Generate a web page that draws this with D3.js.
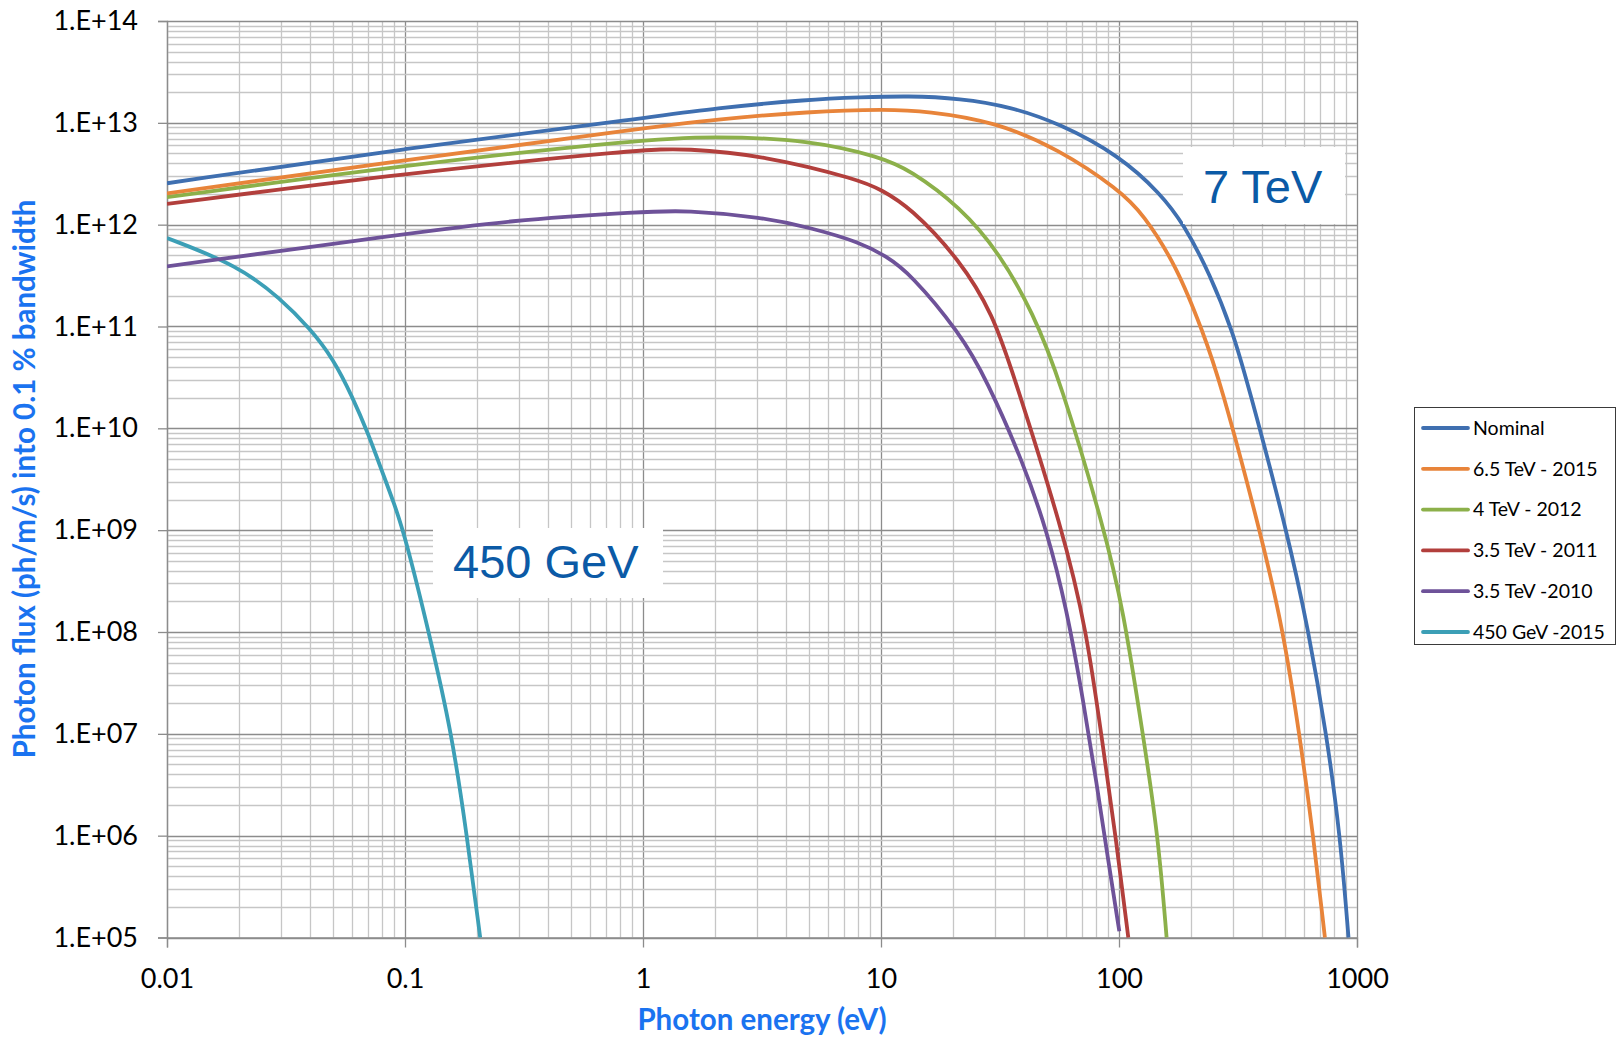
<!DOCTYPE html>
<html>
<head>
<meta charset="utf-8">
<script src="https://cdn.jsdelivr.net/npm/d3@7"></script>
<style>
  body { margin: 0; background: #fff; }
  svg { display: block; }
</style>
</head>
<body>
<svg id="chart" width="1622" height="1040"></svg>
<script>
// ticks
const xTickValues = [0.01, 0.1, 1, 10, 100, 1000];
const xTickLabels = ["0.01", "0.1", "1", "10", "100", "1000"];
const yTickValues = [1e5, 1e6, 1e7, 1e8, 1e9, 1e10, 1e11, 1e12, 1e13, 1e14];
const yTickLabels = ["1.E+05", "1.E+06", "1.E+07", "1.E+08", "1.E+09", "1.E+10", "1.E+11", "1.E+12", "1.E+13", "1.E+14"];

// series names (legend order)
const seriesNames = ["Nominal", "6.5 TeV - 2015", "4 TeV - 2012", "3.5 TeV - 2011", "3.5 TeV -2010", "450 GeV -2015"];

// values: photon energy (eV) and flux
const nominalE = [0.01, 0.1, 1, 2, 5, 8.2, 13, 21.5, 35, 56, 100, 150, 186, 241, 302, 344, 507, 625, 747, 850, 921];
const nominalF = [2.55e12, 5.6e12, 1.11e13, 1.39e13, 1.7e13, 1.78e13, 1.84e13, 1.74e13, 1.44e13, 9.9e12, 4.8e12, 2.0e12, 1.03e12, 3.3e11, 8.6e10, 3.0e10, 1e9, 1.05e8, 9.4e6, 1e6, 1e5];

const tev65E = [0.01, 0.1, 1, 2, 5, 10.5, 15.6, 30, 56, 100, 126, 175, 226, 265, 391, 490, 575, 655, 733];
const tev65F = [2.03e12, 4.3e12, 8.85e12, 1.08e13, 1.29e13, 1.36e13, 1.3e13, 1.03e13, 5.5e12, 2.2e12, 1.29e12, 3.9e11, 8.6e10, 3.0e10, 1e9, 1.05e8, 9.4e6, 1e6, 1e5];

const tev4E = [0.01, 0.1, 1, 2, 5, 10, 13.2, 21.5, 31.6, 43.6, 56.5, 87, 104, 126, 146, 158.5];
const tev4F = [1.86e12, 3.85e12, 6.9e12, 7.4e12, 6.8e12, 4.6e12, 3.45e12, 1.5e12, 5.2e11, 1.35e11, 3.0e10, 1e9, 1.7e8, 1e7, 1e6, 1e5];

const tev35bE = [0.01, 0.1, 1, 1.5, 3.2, 8.2, 10, 13.2, 21.5, 29.6, 36, 58, 73, 84.5, 97.8, 109.4];
const tev35bF = [1.6e12, 3.2e12, 5.5e12, 5.6e12, 4.8e12, 2.75e12, 2.2e12, 1.5e12, 4.5e11, 1.3e11, 3.4e10, 1e9, 1.05e8, 9.4e6, 8.3e5, 1e5];

const tev35aE = [0.01, 0.1, 0.27, 1, 1.5, 3.2, 5, 8.2, 10.5, 13.2, 21.5, 27.8, 39.6, 49.7, 60.3, 70.8, 80.5, 90.2, 100.3];
const tev35aF = [3.9e11, 8.1e11, 1.1e12, 1.34e12, 1.39e12, 1.18e12, 9.4e11, 6.7e11, 4.9e11, 3.35e11, 8.6e10, 3.0e10, 4.6e9, 1e9, 1.7e8, 2.1e7, 3.3e6, 5.6e5, 1.15e5];

const gev450E = [0.01, 0.02, 0.03, 0.04, 0.05, 0.06, 0.07, 0.08, 0.09, 0.1, 0.126, 0.1575, 0.182, 0.207];
const gev450F = [7.4e11, 3.95e11, 1.88e11, 9.5e10, 4.8e10, 2.06e10, 8.9e9, 3.8e9, 1.83e9, 8.8e8, 1e8, 1e7, 1e6, 1e5];

const seriesE = [nominalE, tev65E, tev4E, tev35bE, tev35aE, gev450E];
const seriesF = [nominalF, tev65F, tev4F, tev35bF, tev35aF, gev450F];
const colors = ["#3f6fb0", "#e8843a", "#8cb04a", "#b23f3c", "#6e5299", "#3c9fb6"];

const svg = d3.select("#chart");
const plotL = 167, plotR = 1357, plotT = 21, plotB = 937.5;

const x = d3.scaleLog().domain([0.01, 1000]).range([plotL, plotR]);
const y = d3.scaleLog().domain([1e5, 1e14]).range([plotB, plotT]);

// minor + major grid
const grid = svg.append("g");
grid.selectAll("line.vx").data(x.ticks()).enter().append("line")
  .attr("x1", d => Math.round(x(d)) + 0.5).attr("x2", d => Math.round(x(d)) + 0.5)
  .attr("y1", plotT).attr("y2", plotB)
  .attr("stroke", d => xTickValues.includes(d) ? "#8c8c8c" : "#c6c6c6")
  .attr("stroke-width", 1.3);
grid.selectAll("line.hy").data(y.ticks()).enter().append("line")
  .attr("y1", d => Math.round(y(d)) + 0.5).attr("y2", d => Math.round(y(d)) + 0.5)
  .attr("x1", plotL).attr("x2", plotR)
  .attr("stroke", d => yTickValues.includes(d) ? "#8c8c8c" : "#c6c6c6")
  .attr("stroke-width", 1.3);

// axes
const xAxis = svg.append("g")
  .attr("transform", `translate(0,${plotB})`)
  .call(d3.axisBottom(x).tickValues(xTickValues).tickFormat((d, i) => xTickLabels[i]).tickSize(10).tickPadding(21));
const yAxis = svg.append("g")
  .attr("transform", `translate(${plotL},0)`)
  .call(d3.axisLeft(y).tickValues(yTickValues).tickFormat((d, i) => yTickLabels[i]).tickSize(9).tickPadding(20));
[xAxis, yAxis].forEach(a => {
  a.select(".domain").attr("stroke", "#8c8c8c").attr("stroke-width", 1.3);
  a.selectAll(".tick line").attr("stroke", "#8c8c8c").attr("stroke-width", 1.3);
  a.selectAll(".tick text").attr("fill", "#000").style("font-family", "Lato, 'Open Sans', sans-serif").style("font-size", "27px");
});

// curves (smoothed like the spreadsheet's lines)
svg.append("clipPath").attr("id", "clip").append("rect")
  .attr("x", plotL).attr("y", plotT).attr("width", plotR - plotL).attr("height", plotB - plotT + 2);
const line = d3.line().x(d => x(d[0])).y(d => y(d[1])).curve(d3.curveBasis);
const curves = svg.append("g").attr("clip-path", "url(#clip)");
// draw in reverse so Nominal ends on top
for (let i = seriesE.length - 1; i >= 0; i--) {
  const pts = seriesE[i].map((e, j) => [e, seriesF[i][j]]);
  curves.append("path").datum(pts)
    .attr("d", line)
    .attr("fill", "none")
    .attr("stroke", colors[i])
    .attr("stroke-width", 3.8)
    .attr("stroke-linejoin", "round");
}

// beam labels
const labels = [
  { text: "7 TeV", bx: 1183, by: 147, bw: 162, bh: 77, tx: 1203, ty: 203 },
  { text: "450 GeV", bx: 433, by: 528, bw: 230, bh: 70, tx: 453, ty: 578 }
];
labels.forEach(l => {
  svg.append("rect").attr("x", l.bx).attr("y", l.by).attr("width", l.bw).attr("height", l.bh).attr("fill", "#fff");
  svg.append("text").attr("x", l.tx).attr("y", l.ty).text(l.text)
    .attr("fill", "#0b5aa6")
    .style("font-family", "'Liberation Sans', Arial, sans-serif")
    .style("font-size", "47px");
});

// axis titles
svg.append("text").attr("x", 762).attr("y", 1030).attr("text-anchor", "middle")
  .text("Photon energy (eV)")
  .attr("fill", "#1a73f0")
  .style("font-family", "Lato, sans-serif").style("font-weight", "bold").style("font-size", "29.5px");
svg.append("text").attr("transform", "translate(35,479) rotate(-90)").attr("text-anchor", "middle")
  .text("Photon flux (ph/m/s) into 0.1 % bandwidth")
  .attr("fill", "#1a73f0")
  .style("font-family", "Lato, sans-serif").style("font-weight", "bold").style("font-size", "29.5px");

// legend
const legend = svg.append("g");
legend.append("rect").attr("x", 1414.5).attr("y", 407.5).attr("width", 201).attr("height", 237)
  .attr("fill", "#fff").attr("stroke", "#3a3a3a").attr("stroke-width", 1);
seriesNames.forEach((name, i) => {
  const cy = 428 + i * 40.8;
  legend.append("line").attr("x1", 1423).attr("x2", 1468).attr("y1", cy).attr("y2", cy)
    .attr("stroke", colors[i]).attr("stroke-width", 3.8).attr("stroke-linecap", "round");
  legend.append("text").attr("x", 1473).attr("y", cy).attr("dy", "0.35em").text(name)
    .attr("fill", "#000")
    .style("font-family", "Lato, sans-serif").style("font-size", "19.5px");
});
</script>
</body>
</html>
